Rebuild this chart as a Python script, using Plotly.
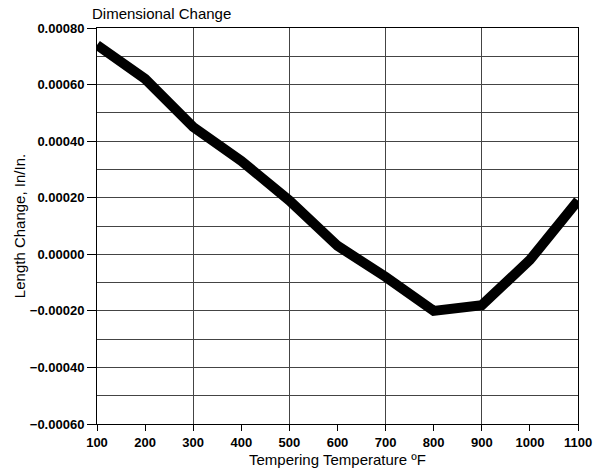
import plotly.graph_objects as go

temps = [100, 200, 300, 400, 500, 600, 700, 800, 900, 1000, 1100]
length_change = [0.00074, 0.00062, 0.00045, 0.00033, 0.00019, 0.00003,
                 -0.00008, -0.00020, -0.00018, -0.00002, 0.00019]

fig = go.Figure()
fig.add_trace(go.Scatter(x=temps, y=length_change, mode="lines",
                         line=dict(color="black", width=10), showlegend=False))
# invisible trace to carry the overlaid grid axis
fig.add_trace(go.Scatter(x=temps, y=length_change, xaxis="x2", mode="lines",
                         line=dict(width=0), opacity=0, showlegend=False, hoverinfo="skip"))

fam = "Liberation Sans, Arial, sans-serif"
fig.update_layout(
    width=603, height=469,
    margin=dict(l=97, r=25, t=28, b=45, autoexpand=False),
    paper_bgcolor="white", plot_bgcolor="white",
    font=dict(family=fam, size=15, color="black"),
    title=dict(text="Dimensional Change", x=92/603, xanchor="left", y=1-14/469, yanchor="middle",
               font=dict(size=15)),
    xaxis=dict(range=[100, 1100], dtick=100, tick0=100, showgrid=False, zeroline=False,
               automargin=False,
               ticks="outside", ticklen=6, tickcolor="black",
               tickfont=dict(family=fam, size=13, color="black", weight="bold"),
               showline=True, linecolor="black", linewidth=1, mirror=True,
               title=dict(text="Tempering Temperature ºF", standoff=5, font=dict(size=15))),
    xaxis2=dict(range=[100, 1100], dtick=200, tick0=100, overlaying="x", showgrid=True,
                gridcolor="#444", gridwidth=1, showticklabels=False, ticks="", zeroline=False),
    yaxis=dict(range=[-0.0006, 0.0008], dtick=0.0002, tick0=0, tickformat=".5f",
               showgrid=True, gridcolor="#444", gridwidth=1, zeroline=False,
               automargin=False,
               minor=dict(dtick=0.0001, showgrid=True, gridcolor="#444", gridwidth=1, ticks=""),
               ticks="outside", ticklen=9, tickcolor="black",
               tickfont=dict(family=fam, size=13, color="black", weight="bold"),
               showline=True, linecolor="black", linewidth=1, mirror=True,
               title=dict(text="Length Change, In/In.", standoff=0, font=dict(size=15))),
)
fig.write_html("out.html", config={"displayModeBar": False},
               post_script="document.body.style.margin='0';document.body.style.padding='0';")
